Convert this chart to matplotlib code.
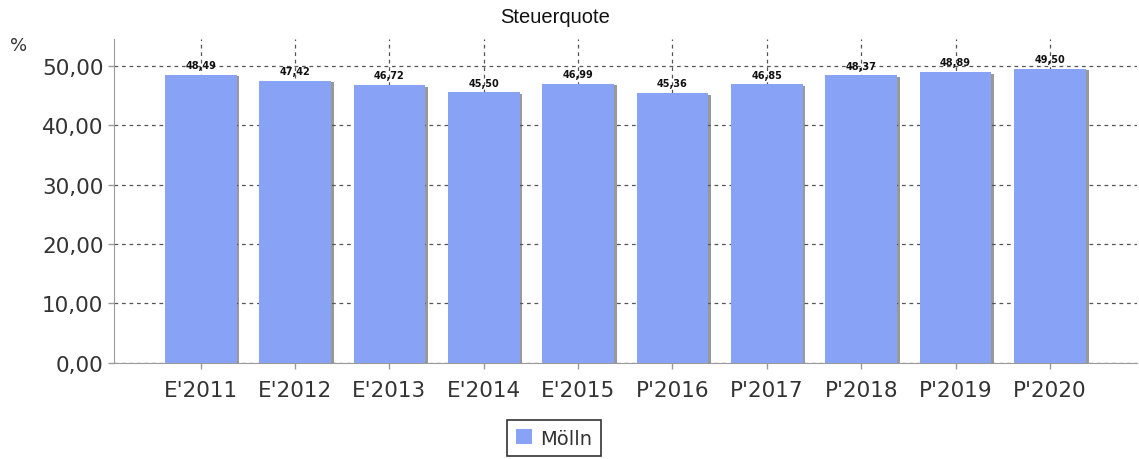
"""Steuerquote bar chart"""
import matplotlib
matplotlib.use('Agg')
from matplotlib import pyplot, patheffects
from matplotlib.patches import Rectangle

CATEGORIES = ["E'2011", "E'2012", "E'2013", "E'2014", "E'2015",
              "P'2016", "P'2017", "P'2018", "P'2019", "P'2020"]
VALUES = [48.49, 47.42, 46.72, 45.50, 46.99, 45.36, 46.85, 48.37, 48.89, 49.50]
Y_TICKS = [0, 10, 20, 30, 40, 50]
SERIES = 'Mölln'

CLR_BAR = '#88A3F6'
CLR_TEXT = '#333333'
CLR_GRID = '#555555'
CLR_SPINE = '#9A9A9A'


def fmt(v):
    return f'{v:.2f}'.replace('.', ',')


fig = pyplot.figure(figsize=(11.39, 4.60), dpi=100)
ax = fig.add_axes([0.100, 0.209, 0.898, 0.704])

xs = list(range(len(CATEGORIES)))
shadow = [patheffects.SimplePatchShadow(offset=(2, -1), shadow_rgbFace='#555555', alpha=0.6),
          patheffects.Normal()]
bars = ax.bar(xs, VALUES, width=0.76, color=CLR_BAR, zorder=3)
for b in bars:
    b.set_path_effects(shadow)

for x, v in zip(xs, VALUES):
    ax.annotate(fmt(v), (x, v), xytext=(0, 3.5), textcoords='offset points',
                ha='center', va='bottom', fontsize=7, fontweight='bold',
                color='#111111', zorder=4)

ax.set_xlim(-0.92, 9.92)
ax.set_ylim(0, 54.5)
ax.set_xticks(xs)
ax.set_xticklabels(CATEGORIES)
ax.set_yticks(Y_TICKS)
ax.set_yticklabels([fmt(t) for t in Y_TICKS])
ax.tick_params(axis='both', labelsize=15.5, colors=CLR_SPINE, labelcolor=CLR_TEXT,
               length=4, width=1)
ax.tick_params(axis='x', pad=8)

ax.grid(True, linestyle=(0, (3, 3)), color=CLR_GRID, linewidth=0.9, zorder=1)
ax.set_axisbelow(True)
for side in ('top', 'right'):
    ax.spines[side].set_visible(False)
for side in ('left', 'bottom'):
    ax.spines[side].set_color(CLR_SPINE)

fig.text(0.487, 0.961, 'Steuerquote', ha='center', va='center',
         fontsize=14.5, family='Liberation Sans', color='#111111')
fig.text(0.009, 0.9, '%', ha='left', va='center', fontsize=13, color=CLR_TEXT)

proxy = Rectangle((0, 0), 1, 1, facecolor=CLR_BAR, edgecolor='none')
leg = fig.legend([proxy], [SERIES], loc='upper center', bbox_to_anchor=(0.4865, 0.085),
                 fontsize=14, frameon=True, fancybox=False, handlelength=0.82,
                 handleheight=0.82, handletextpad=0.45, borderpad=0.45,
                 borderaxespad=0, labelcolor=CLR_TEXT)
leg.get_frame().set_edgecolor('black')
leg.get_frame().set_linewidth(1.2)

fig.savefig('out.png', dpi=100)
